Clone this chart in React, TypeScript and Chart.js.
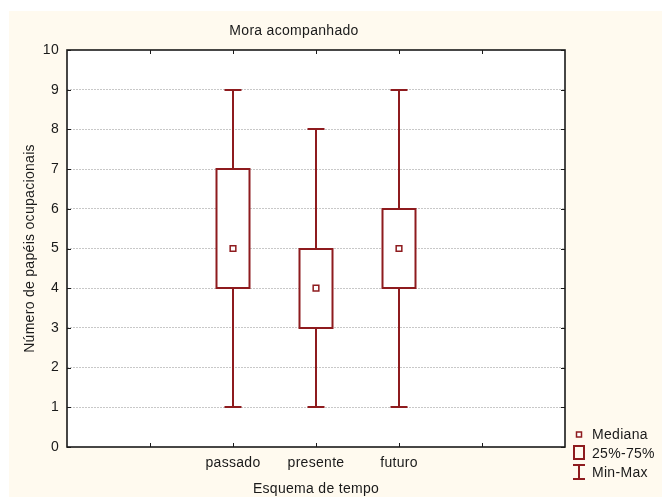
import React, { useEffect, useRef } from "react";
import { Chart, registerables } from "chart.js";

Chart.register(...registerables);

const categories = ["passado", "presente", "futuro"];
const positions = [2, 3, 4];
const minValues = [1, 1, 1];
const q1Values = [4, 3, 4];
const medianValues = [5, 4, 5];
const q3Values = [7, 5, 6];
const maxValues = [9, 8, 9];
const yTicks = [0, 1, 2, 3, 4, 5, 6, 7, 8, 9, 10];
const xTickPositions = [1, 2, 3, 4, 5];

const RED = "#8E1B1E";
const CREAM = "#FFFAEF";
const FONT = "Liberation Sans, Arial, sans-serif";
const TEXT = "#1a1a1a";
const SPACING = "0.3px";

const boxPlugin = {
  id: "boxPlugin",
  beforeDraw(chart: any) {
    const ctx = chart.ctx;
    const { width, height } = chart;
    ctx.letterSpacing = SPACING;
    ctx.save();
    ctx.fillStyle = "#ffffff";
    ctx.fillRect(0, 0, width, height);
    ctx.fillStyle = CREAM;
    ctx.fillRect(9, 11, width - 9, height - 11);
    const a = chart.chartArea;
    ctx.fillStyle = "#ffffff";
    ctx.fillRect(a.left, a.top, a.right - a.left, a.bottom - a.top);
    ctx.restore();
  },
  beforeDatasetsDraw(chart: any) {
    const ctx = chart.ctx;
    const xs = chart.scales.x;
    const ys = chart.scales.y;
    ctx.save();
    ctx.strokeStyle = RED;
    ctx.lineWidth = 2;
    const halfBox = 16.5;
    const halfCap = 8.5;
    for (let i = 0; i < categories.length; i++) {
      const cx = Math.round(xs.getPixelForValue(positions[i]));
      const yMin = Math.round(ys.getPixelForValue(minValues[i]));
      const yMax = Math.round(ys.getPixelForValue(maxValues[i]));
      const yQ1 = Math.round(ys.getPixelForValue(q1Values[i]));
      const yQ3 = Math.round(ys.getPixelForValue(q3Values[i]));
      ctx.beginPath();
      ctx.moveTo(cx, yMax);
      ctx.lineTo(cx, yQ3);
      ctx.moveTo(cx, yQ1);
      ctx.lineTo(cx, yMin);
      ctx.moveTo(cx - halfCap, yMax);
      ctx.lineTo(cx + halfCap, yMax);
      ctx.moveTo(cx - halfCap, yMin);
      ctx.lineTo(cx + halfCap, yMin);
      ctx.stroke();
      ctx.fillStyle = "#ffffff";
      ctx.fillRect(cx - halfBox, yQ3, halfBox * 2, yQ1 - yQ3);
      ctx.strokeRect(cx - halfBox, yQ3, halfBox * 2, yQ1 - yQ3);
    }
    ctx.restore();
  },
  afterDraw(chart: any) {
    const ctx = chart.ctx;
    const a = chart.chartArea;
    const xs = chart.scales.x;
    const ys = chart.scales.y;
    ctx.save();
    ctx.letterSpacing = SPACING;
    // frame
    ctx.strokeStyle = TEXT;
    ctx.lineWidth = 1.6;
    ctx.strokeRect(a.left, a.top, a.right - a.left, a.bottom - a.top);
    // ticks inside
    ctx.lineWidth = 1;
    ctx.beginPath();
    for (const v of xTickPositions) {
      const px = Math.round(xs.getPixelForValue(v)) + 0.5;
      ctx.moveTo(px, a.bottom);
      ctx.lineTo(px, a.bottom - 4);
      ctx.moveTo(px, a.top);
      ctx.lineTo(px, a.top + 4);
    }
    for (const v of yTicks) {
      const py = Math.round(ys.getPixelForValue(v)) + 0.5;
      ctx.moveTo(a.right, py);
      ctx.lineTo(a.right - 4, py);
      ctx.moveTo(a.left, py);
      ctx.lineTo(a.left + 4, py);
    }
    ctx.stroke();

    // texts
    ctx.fillStyle = TEXT;
    ctx.font = "14px " + FONT;
    ctx.textAlign = "center";
    ctx.textBaseline = "middle";
    ctx.fillText("Mora acompanhado", 294, 31);
    ctx.fillText("Esquema de tempo", (a.left + a.right) / 2, 489);
    ctx.save();
    ctx.translate(30, (a.top + a.bottom) / 2);
    ctx.rotate(-Math.PI / 2);
    ctx.fillText("Número de papéis ocupacionais", 0, 0);
    ctx.restore();

    // legend
    ctx.strokeStyle = RED;
    ctx.lineWidth = 1.5;
    ctx.fillStyle = "#ffffff";
    ctx.fillRect(576.5, 432, 5, 5);
    ctx.strokeRect(576.5, 432, 5, 5);
    ctx.lineWidth = 2;
    ctx.strokeRect(574, 446, 10, 13);
    ctx.beginPath();
    ctx.moveTo(579, 465);
    ctx.lineTo(579, 479);
    ctx.moveTo(573, 465);
    ctx.lineTo(585, 465);
    ctx.moveTo(573, 479);
    ctx.lineTo(585, 479);
    ctx.stroke();
    ctx.fillStyle = TEXT;
    ctx.textAlign = "left";
    ctx.fillText("Mediana", 592, 435);
    ctx.fillText("25%-75%", 592, 454);
    ctx.fillText("Min-Max", 592, 473);
    ctx.restore();
  },
};

export default function App() {
  const ref = useRef<HTMLCanvasElement>(null);
  useEffect(() => {
    const canvas = ref.current;
    if (!canvas) return;
    const chart = new Chart(canvas, {
      type: "scatter",
      data: {
        datasets: [
          {
            label: "Mediana",
            data: positions.map((p, i) => ({ x: p, y: medianValues[i] })),
            pointStyle: "rect",
            pointRadius: 4,
            pointBorderColor: RED,
            pointBackgroundColor: "#ffffff",
            pointBorderWidth: 1.5,
          },
        ],
      },
      options: {
        responsive: false,
        animation: false,
        events: [],
        layout: { padding: { top: 50, right: 97, left: 0, bottom: 0 } },
        plugins: {
          legend: { display: false },
          title: { display: false },
          tooltip: { enabled: false },
        },
        scales: {
          x: {
            type: "linear",
            min: 0,
            max: 6,
            afterFit: (s: any) => {
              s.height = 50;
            },
            afterBuildTicks: (s: any) => {
              s.ticks = categories.map((_, i) => ({ value: positions[i] }));
            },
            ticks: {
              padding: 8,
              color: TEXT,
              font: { family: FONT, size: 14 },
              callback: (v: any) => {
                const idx = positions.indexOf(Number(v));
                return idx >= 0 ? categories[idx] : "";
              },
            },
            grid: { display: false, drawTicks: false },
            border: { display: false },
          },
          y: {
            min: 0,
            max: 10,
            afterFit: (s: any) => {
              s.width = 67;
            },
            afterBuildTicks: (s: any) => {
              s.ticks = yTicks.map((v) => ({ value: v }));
            },
            ticks: {
              padding: 8,
              color: TEXT,
              font: { family: FONT, size: 14 },
            },
            grid: {
              drawTicks: false,
              color: (c: any) =>
                c.tick && (c.tick.value === 0 || c.tick.value === 10) ? "rgba(0,0,0,0)" : "#c8c8c8",
              lineWidth: 1,
            },
            border: { display: false, dash: [2, 1] },
          },
        },
      },
      plugins: [boxPlugin],
    });
    return () => chart.destroy();
  }, []);
  return (
    <div style={{ position: "fixed", left: 0, top: 0, width: 662, height: 497 }}>
      <canvas ref={ref} width={662} height={497} style={{ display: "block" }} />
    </div>
  );
}
